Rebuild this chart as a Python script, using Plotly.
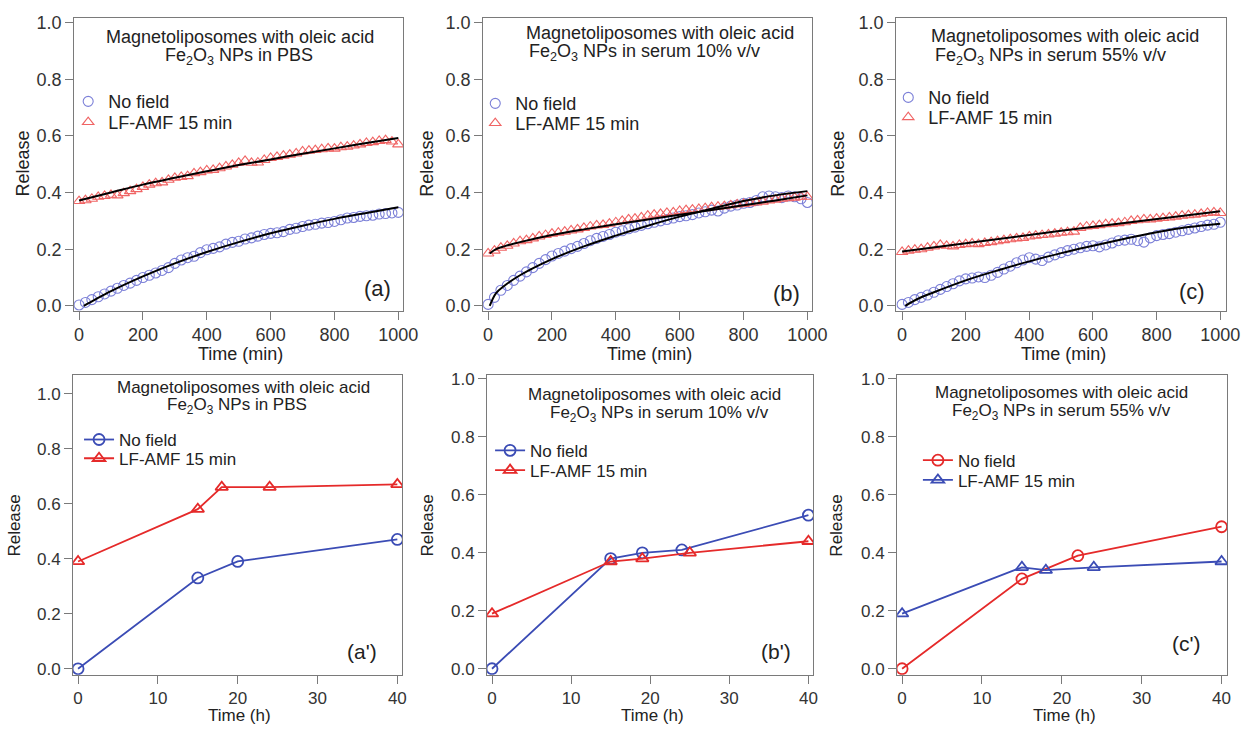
import plotly.graph_objects as go

W, H = 1256, 730

# ---------------- data ----------------
time_min = list(range(0, 1001, 20))

a_nofield = [0.003, 0.012, 0.022, 0.032, 0.042, 0.052, 0.062, 0.072, 0.080, 0.090,
             0.100, 0.108, 0.116, 0.125, 0.135, 0.150, 0.162, 0.170, 0.175, 0.188,
             0.198, 0.203, 0.208, 0.218, 0.224, 0.228, 0.236, 0.240, 0.246, 0.252,
             0.256, 0.258, 0.262, 0.270, 0.274, 0.280, 0.285, 0.288, 0.292, 0.294,
             0.298, 0.304, 0.310, 0.312, 0.316, 0.318, 0.320, 0.324, 0.326, 0.328, 0.330]
a_field = [0.370, 0.373, 0.378, 0.385, 0.388, 0.392, 0.390, 0.398, 0.405, 0.412,
           0.420, 0.428, 0.433, 0.436, 0.445, 0.452, 0.455, 0.458, 0.468, 0.472,
           0.478, 0.480, 0.486, 0.492, 0.498, 0.505, 0.512, 0.505, 0.506, 0.515,
           0.522, 0.526, 0.530, 0.534, 0.538, 0.545, 0.548, 0.550, 0.553, 0.556,
           0.555, 0.560, 0.562, 0.566, 0.570, 0.575, 0.578, 0.582, 0.585, 0.580, 0.570]
b_nofield = [0.005, 0.030, 0.055, 0.072, 0.090, 0.105, 0.120, 0.135, 0.150, 0.163,
             0.176, 0.185, 0.193, 0.202, 0.210, 0.220, 0.230, 0.238, 0.245, 0.252,
             0.260, 0.265, 0.272, 0.278, 0.284, 0.290, 0.295, 0.300, 0.305, 0.310,
             0.315, 0.318, 0.322, 0.328, 0.332, 0.338, 0.335, 0.345, 0.352, 0.356,
             0.362, 0.365, 0.372, 0.385, 0.388, 0.385, 0.382, 0.388, 0.385, 0.378, 0.365]
b_field = [0.185, 0.195, 0.205, 0.212, 0.220, 0.228, 0.232, 0.238, 0.245, 0.250,
           0.255, 0.258, 0.262, 0.266, 0.270, 0.275, 0.280, 0.284, 0.286, 0.290,
           0.295, 0.300, 0.305, 0.308, 0.312, 0.318, 0.322, 0.325, 0.328, 0.330,
           0.335, 0.338, 0.340, 0.342, 0.345, 0.348, 0.350, 0.352, 0.355, 0.358,
           0.360, 0.362, 0.365, 0.368, 0.372, 0.375, 0.378, 0.380, 0.382, 0.385, 0.385]
c_nofield = [0.005, 0.012, 0.022, 0.030, 0.038, 0.048, 0.058, 0.068, 0.078, 0.088,
             0.095, 0.098, 0.102, 0.100, 0.108, 0.118, 0.130, 0.140, 0.152, 0.162,
             0.170, 0.165, 0.160, 0.172, 0.180, 0.188, 0.195, 0.200, 0.205, 0.210,
             0.212, 0.208, 0.215, 0.222, 0.230, 0.232, 0.235, 0.230, 0.225, 0.240,
             0.248, 0.252, 0.255, 0.260, 0.265, 0.270, 0.275, 0.280, 0.285, 0.288, 0.295]
c_field = [0.190, 0.195, 0.198, 0.200, 0.205, 0.210, 0.215, 0.212, 0.210, 0.215,
           0.218, 0.220, 0.218, 0.222, 0.225, 0.228, 0.232, 0.235, 0.238, 0.240,
           0.245, 0.248, 0.250, 0.252, 0.255, 0.258, 0.260, 0.262, 0.275, 0.280,
           0.282, 0.285, 0.288, 0.290, 0.292, 0.295, 0.300, 0.302, 0.305, 0.305,
           0.308, 0.310, 0.312, 0.315, 0.318, 0.320, 0.322, 0.325, 0.328, 0.330, 0.328]

# fitted curves (black lines)
fit_a_nofield_t = [15, 50, 100, 200, 300, 400, 500, 600, 700, 800, 900, 1000]
fit_a_nofield_y = [0.0, 0.022, 0.052, 0.104, 0.150, 0.190, 0.225, 0.256, 0.283, 0.307, 0.328, 0.348]
fit_a_field_t = [0, 100, 200, 300, 400, 500, 600, 700, 800, 900, 1000]
fit_a_field_y = [0.372, 0.400, 0.428, 0.452, 0.475, 0.497, 0.517, 0.537, 0.556, 0.575, 0.593]
fit_b_nofield_t = [5, 25, 50, 100, 200, 300, 400, 500, 600, 700, 800, 900, 1000]
fit_b_nofield_y = [0.0, 0.045, 0.070, 0.108, 0.165, 0.210, 0.248, 0.283, 0.315, 0.343, 0.370, 0.390, 0.405]
fit_b_field_t = [5, 25, 50, 100, 200, 300, 400, 500, 600, 700, 800, 900, 1000]
fit_b_field_y = [0.185, 0.200, 0.210, 0.225, 0.250, 0.270, 0.288, 0.305, 0.322, 0.338, 0.355, 0.372, 0.390]
fit_c_nofield_t = [10, 50, 100, 200, 300, 400, 500, 600, 700, 800, 900, 1000]
fit_c_nofield_y = [0.0, 0.025, 0.048, 0.090, 0.125, 0.157, 0.186, 0.212, 0.237, 0.260, 0.278, 0.290]
fit_c_field_t = [0, 500, 1000]
fit_c_field_y = [0.192, 0.265, 0.334]

# bottom row (hours)
ap_nofield_t = [0, 15, 20, 40]
ap_nofield_y = [0.0, 0.33, 0.39, 0.47]
ap_field_t = [0, 15, 18, 24, 40]
ap_field_y = [0.39, 0.58, 0.66, 0.66, 0.67]
bp_nofield_t = [0, 15, 19, 24, 40]
bp_nofield_y = [0.0, 0.38, 0.40, 0.41, 0.53]
bp_field_t = [0, 15, 19, 25, 40]
bp_field_y = [0.19, 0.37, 0.38, 0.40, 0.44]
cp_nofield_t = [0, 15, 22, 40]
cp_nofield_y = [0.0, 0.31, 0.39, 0.49]
cp_field_t = [0, 15, 18, 24, 40]
cp_field_y = [0.19, 0.35, 0.34, 0.35, 0.37]

titles_line1 = "Magnetoliposomes with oleic acid"
titles_line2 = ["Fe<sub>2</sub>O<sub>3</sub> NPs in PBS",
                "Fe<sub>2</sub>O<sub>3</sub> NPs in serum 10% v/v",
                "Fe<sub>2</sub>O<sub>3</sub> NPs in serum 55% v/v"]
panel_tags = ["(a)", "(b)", "(c)", "(a')", "(b')", "(c')"]
legend_names = ["No field", "LF-AMF 15 min"]

# ---------------- styling ----------------
FONT = "Liberation Sans, Arial, sans-serif"
LIGHT_BLUE = "#7c80d8"
LIGHT_RED = "#f06464"
BLUE = "#3b4cb5"
RED = "#e52a2a"
FRAME = "#7a7a7a"
TXT = "#222222"
TICKTXT = "#333333"

def px(x):
    return x / W

def py(y):
    return 1 - y / H

# panel frames in pixels: (left, right, top, bottom)
frames = [(75, 408, 13, 310), (489, 822, 13, 310), (907, 1241, 13, 310),
          (74, 407, 375, 679), (493, 823, 375, 679), (908, 1242, 375, 679)]
xranges = [[-15.5, 1015], [-15.5, 1015], [-18.6, 1018.6],
           [-0.62, 40.6], [-0.62, 40.6], [-0.62, 40.7]]
yranges = [[-0.0174, 1.017], [-0.0174, 1.017], [-0.0174, 1.017],
           [-0.0215, 1.068], [-0.0205, 1.014], [-0.0205, 1.014]]

# legend item centres (marker centre) in pixels, two per panel
legend_items = [((88, 98), (88, 119)), ((500, 100), (500, 120)), ((918, 94), (918, 114)),
                ((99, 441), (99, 460)), ((515, 452), (515, 472)), ((948, 462), (948, 482))]

fig = go.Figure()

def leg_key(panel, item):
    n = panel * 2 + item + 1
    return "legend" if n == 1 else f"legend{n}"

top_sets = [
    (a_nofield, a_field, fit_a_nofield_t, fit_a_nofield_y, fit_a_field_t, fit_a_field_y),
    (b_nofield, b_field, fit_b_nofield_t, fit_b_nofield_y, fit_b_field_t, fit_b_field_y),
    (c_nofield, c_field, fit_c_nofield_t, fit_c_nofield_y, fit_c_field_t, fit_c_field_y),
]

for i, (nf, fd, ft1, fy1, ft2, fy2) in enumerate(top_sets):
    xa = "x" if i == 0 else f"x{i+1}"
    ya = "y" if i == 0 else f"y{i+1}"
    fig.add_trace(go.Scatter(x=time_min, y=nf, mode="markers", name=legend_names[0],
                             marker=dict(symbol="circle-open", size=10, color=LIGHT_BLUE,
                                         line=dict(width=1.1, color=LIGHT_BLUE)),
                             xaxis=xa, yaxis=ya, legend=leg_key(i, 0)))
    fig.add_trace(go.Scatter(x=time_min, y=fd, mode="markers", name=legend_names[1],
                             marker=dict(symbol="triangle-up-open", size=10, color=LIGHT_RED,
                                         line=dict(width=1.1, color=LIGHT_RED)),
                             xaxis=xa, yaxis=ya, legend=leg_key(i, 1)))
    fig.add_trace(go.Scatter(x=ft1, y=fy1, mode="lines", line=dict(color="black", width=2, shape="spline"),
                             showlegend=False, xaxis=xa, yaxis=ya))
    fig.add_trace(go.Scatter(x=ft2, y=fy2, mode="lines", line=dict(color="black", width=2, shape="spline"),
                             showlegend=False, xaxis=xa, yaxis=ya))

bottom_sets = [
    (ap_nofield_t, ap_nofield_y, ap_field_t, ap_field_y, BLUE, RED),
    (bp_nofield_t, bp_nofield_y, bp_field_t, bp_field_y, BLUE, RED),
    (cp_nofield_t, cp_nofield_y, cp_field_t, cp_field_y, RED, BLUE),
]
for j, (t1, y1, t2, y2, c1, c2) in enumerate(bottom_sets):
    k = j + 4
    xa, ya = f"x{k}", f"y{k}"
    fig.add_trace(go.Scatter(x=t1, y=y1, mode="lines+markers", name=legend_names[0],
                             line=dict(color=c1, width=1.8),
                             marker=dict(symbol="circle-open", size=11, color=c1, line=dict(width=1.8, color=c1)),
                             xaxis=xa, yaxis=ya, legend=leg_key(j + 3, 0)))
    fig.add_trace(go.Scatter(x=t2, y=y2, mode="lines+markers", name=legend_names[1],
                             line=dict(color=c2, width=1.8),
                             marker=dict(symbol="triangle-up-open", size=11, color=c2, line=dict(width=1.8, color=c2)),
                             xaxis=xa, yaxis=ya, legend=leg_key(j + 3, 1)))

layout = dict(width=W, height=H, margin=dict(l=0, r=0, t=0, b=0),
              paper_bgcolor="white", plot_bgcolor="white",
              font=dict(family=FONT, color=TXT), showlegend=True)

for i in range(6):
    l, r, t, b = frames[i]
    suffix = "" if i == 0 else str(i + 1)
    top = i < 3
    layout["xaxis" + suffix] = dict(
        domain=[px(l), px(r)], range=xranges[i], anchor="y" + suffix,
        tickvals=[0, 200, 400, 600, 800, 1000] if top else [0, 10, 20, 30, 40],
        ticks="outside", ticklen=8, tickcolor=FRAME, tickwidth=1,
        showline=True, linecolor=FRAME, linewidth=1, mirror=True,
        showgrid=False, zeroline=False,
        tickfont=dict(size=18 if top else 17, color=TICKTXT, family=FONT))
    layout["yaxis" + suffix] = dict(
        domain=[py(b), py(t)], range=yranges[i], anchor="x" + suffix,
        tickvals=[0, 0.2, 0.4, 0.6, 0.8, 1.0], tickformat=".1f",
        ticks="outside", ticklen=8, tickcolor=FRAME, tickwidth=1,
        showline=True, linecolor=FRAME, linewidth=1, mirror=True,
        showgrid=False, zeroline=False,
        tickfont=dict(size=18 if top else 17, color=TICKTXT, family=FONT))

for p, items in enumerate(legend_items):
    for it, (mx, my) in enumerate(items):
        layout[leg_key(p, it)] = dict(
            x=px(mx - 19), y=py(my), xanchor="left", yanchor="middle",
            bgcolor="rgba(0,0,0,0)", borderwidth=0, tracegroupgap=0,
            font=dict(size=18 if p < 3 else 17, color=TXT, family=FONT),
            itemwidth=30)

fig.update_layout(**layout)

anns = []
# titles
title_pos = [
    ((243, 32), (242, 52)),
    ((668, 28), (652, 48)),
    ((1078, 31), (1063, 52)),
    ((246, 388), (240, 407)),
    ((662, 395), (667, 415)),
    ((1074, 393), (1074, 413)),
]
for i, ((x1, y1), (x2, y2)) in enumerate(title_pos):
    fs = 18 if i < 3 else 17
    anns.append(dict(x=px(x1), y=py(y1), xref="paper", yref="paper", text=titles_line1,
                     showarrow=False, xanchor="center", yanchor="middle",
                     font=dict(size=fs, color=TXT, family=FONT)))
    anns.append(dict(x=px(x2), y=py(y2), xref="paper", yref="paper", text=titles_line2[i % 3],
                     showarrow=False, xanchor="center", yanchor="middle",
                     font=dict(size=fs, color=TXT, family=FONT)))

tag_pos = [(382, 287), (796, 293), (1206, 290), (366, 655), (785, 655), (1201, 647)]
for i, (x, y) in enumerate(tag_pos):
    anns.append(dict(x=px(x), y=py(y), xref="paper", yref="paper", text=panel_tags[i],
                     showarrow=False, xanchor="center", yanchor="middle",
                     font=dict(size=22 if i < 3 else 21, color=TXT, family=FONT)))

# axis titles
for i in range(6):
    l, r, t, b = frames[i]
    top = i < 3
    xt = "Time (min)" if top else "Time (h)"
    xty = 354 if top else 720
    anns.append(dict(x=px((l + r) / 2 + 2), y=py(xty), xref="paper", yref="paper", text=xt,
                     showarrow=False, xanchor="center", yanchor="middle",
                     font=dict(size=18 if top else 17, color=TXT, family=FONT)))
ylab_pos = [(23, 161), (432, 161), (848, 161), (15, 528), (433, 528), (847, 528)]
for i, (x, y) in enumerate(ylab_pos):
    anns.append(dict(x=px(x), y=py(y), xref="paper", yref="paper", text="Release",
                     showarrow=False, xanchor="center", yanchor="middle", textangle=-90,
                     font=dict(size=18 if i < 3 else 17, color=TXT, family=FONT)))

fig.update_layout(annotations=anns)
fig.write_html("out.html", config={"displayModeBar": False},
               post_script="document.body.style.margin='0px';")
